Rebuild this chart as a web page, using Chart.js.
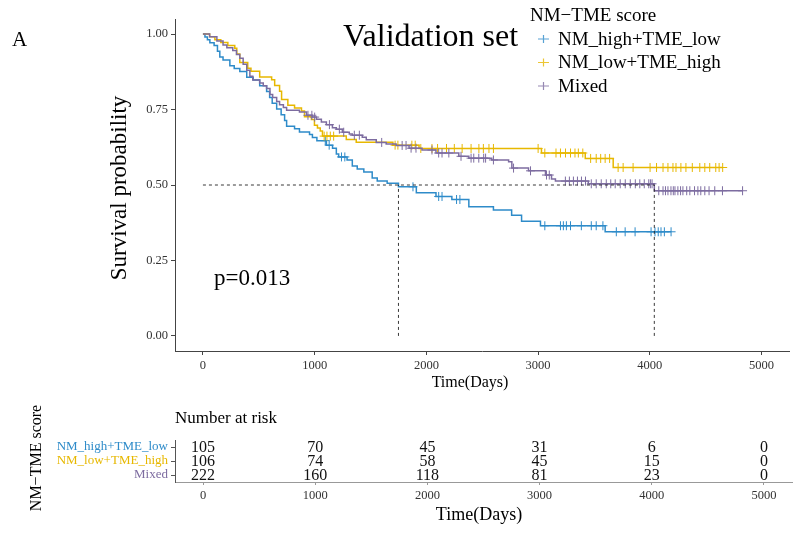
<!DOCTYPE html>
<html>
<head>
<meta charset="utf-8">
<script src="https://cdn.jsdelivr.net/npm/chart.js@4.4.1/dist/chart.umd.min.js"></script>
<style>
  html, body { margin: 0; padding: 0; background: #fff; }
  #wrap { position: relative; width: 795px; height: 540px; overflow: hidden; }
  #wrap canvas { position: absolute; left: 0; top: 0; }
</style>
</head>
<body>
<div id="wrap">
  <canvas id="km" width="795" height="540"></canvas>
  <canvas id="risk" width="795" height="540"></canvas>
</div>
<script>
const FONT = "'Liberation Serif', 'Times New Roman', serif";

const groupNames = ['NM_high+TME_low', 'NM_low+TME_high', 'Mixed'];
const groupColors = ['#2E8BC9', '#E7B800', '#7D6CA0'];

// Kaplan–Meier steps: event times (days) and survival after each step, plus censoring times
const highTimes = [0, 18, 40, 62, 100, 130, 151, 180, 241, 280, 330, 392, 450, 508, 570, 597, 620, 660, 700, 731,
  749, 820, 864, 954, 980, 1020, 1105, 1160, 1194, 1215, 1290, 1337, 1381, 1440, 1515, 1560, 1649, 1750, 1910, 2086,
  2228, 2380, 2600, 2763, 2852, 3021, 3600];
const highSurv = [1, 0.990, 0.981, 0.971, 0.962, 0.943, 0.924, 0.914, 0.895, 0.886, 0.876, 0.857, 0.848, 0.829, 0.810, 0.790, 0.771, 0.752, 0.733, 0.714,
  0.695, 0.686, 0.676, 0.667, 0.657, 0.647, 0.632, 0.622, 0.603, 0.593, 0.583, 0.563, 0.553, 0.543, 0.523, 0.513, 0.506, 0.494, 0.474, 0.462,
  0.452, 0.428, 0.417, 0.400, 0.380, 0.365, 0.345];
const highCensor = [1095, 1130, 1240, 1270, 1880, 2110, 2140, 2270, 2300, 3060, 3200, 3226, 3253, 3290, 3387, 3476, 3520, 3580,
  3700, 3779, 3868, 4011, 4046, 4075, 4100, 4130, 4190];

const lowTimes = [0, 60, 107, 160, 223, 285, 303, 330, 401, 430, 508, 615, 642, 686, 704, 760, 820, 882, 909, 971,
  998, 1025, 1050, 1070, 1283, 1372, 1700, 1934, 3030, 3422, 3672];
const lowSurv = [1, 0.991, 0.981, 0.972, 0.962, 0.953, 0.934, 0.906, 0.887, 0.877, 0.858, 0.849, 0.830, 0.811, 0.783, 0.764, 0.755, 0.745, 0.726, 0.717,
  0.698, 0.689, 0.679, 0.662, 0.651, 0.642, 0.632, 0.621, 0.606, 0.588, 0.558];
const lowCensor = [1085, 1110, 1140, 1170, 1720, 1745, 1870, 1900, 1950, 2050, 2100, 2180, 2250, 2320, 2400, 2470, 2510, 2560, 2600,
  3000, 3060, 3160, 3200, 3245, 3290, 3330, 3360, 3400, 3470, 3520, 3560, 3600, 3640, 3716, 3761, 3850,
  4002, 4060, 4118, 4162, 4207, 4234, 4278, 4323, 4380, 4447, 4492, 4536, 4590, 4620, 4652];

const mixTimes = [0, 60, 125, 180, 214, 267, 300, 330, 360, 392, 420, 446, 508, 540, 570, 600, 624, 660, 686, 720,
  749, 864, 927, 980, 1016, 1060, 1105, 1159, 1194, 1248, 1310, 1337, 1426, 1462, 1551, 1640, 1729, 1845, 1961, 2086,
  2290, 2380, 2585, 2736, 2765, 2914, 3066, 3120, 3155, 3449, 4040];
const mixSurv = [1, 0.991, 0.977, 0.964, 0.955, 0.946, 0.932, 0.920, 0.900, 0.880, 0.860, 0.848, 0.838, 0.829, 0.820, 0.800, 0.790, 0.777, 0.766, 0.757,
  0.748, 0.742, 0.731, 0.725, 0.718, 0.709, 0.700, 0.690, 0.685, 0.675, 0.669, 0.665, 0.658, 0.650, 0.641, 0.636, 0.631, 0.622, 0.616, 0.606,
  0.595, 0.589, 0.583, 0.577, 0.556, 0.547, 0.533, 0.520, 0.513, 0.504, 0.481];
const mixCensor = [940, 975, 1000, 1132, 1221, 1260, 1355, 1400, 1600, 1783, 1818, 1863, 1907, 2050, 2110, 2140, 2201, 2310, 2400, 2424,
  2469, 2513, 2530, 2600, 2780, 2932, 3075, 3100, 3244, 3280, 3316, 3352, 3388, 3424, 3476, 3520, 3565, 3610, 3650, 3690,
  3735, 3780, 3825, 3870, 3910, 3950, 3990, 4005, 4020, 4080, 4118, 4140, 4162, 4189, 4210, 4225, 4251, 4275, 4296, 4330,
  4358, 4400, 4430, 4456, 4492, 4530, 4581, 4650, 4830];

// Median survival times (days) where curves cross 0.5
const medianTimes = [1750, 4040];

// Number at risk table
const riskTimes = [0, 1000, 2000, 3000, 4000, 5000];
const riskHigh = [105, 70, 45, 31, 6, 0];
const riskLow = [106, 74, 58, 45, 15, 0];
const riskMixed = [222, 160, 118, 81, 23, 0];

const xTickValues = [0, 1000, 2000, 3000, 4000, 5000];
const yTickValues = [0, 0.25, 0.5, 0.75, 1];
const pValueText = 'p=0.013';

function stepPoints(times, surv, censor) {
  const pts = times.map((t, i) => ({ x: t, y: surv[i] }));
  const end = Math.max(times[times.length - 1], censor[censor.length - 1]);
  pts.push({ x: end, y: surv[surv.length - 1] });
  return pts;
}
function survAt(times, surv, t) {
  let s = surv[0];
  for (let i = 0; i < times.length; i++) { if (times[i] <= t) s = surv[i]; }
  return s;
}
function censorPoints(times, surv, censor) {
  return censor.map(t => ({ x: t, y: survAt(times, surv, t) }));
}

const series = [
  { times: highTimes, surv: highSurv, censor: highCensor },
  { times: lowTimes, surv: lowSurv, censor: lowCensor },
  { times: mixTimes, surv: mixSurv, censor: mixCensor }
];

const datasets = [];
// median reference lines (dashed)
datasets.push({
  type: 'line', data: [{ x: 0, y: 0.5 }, { x: Math.max(...medianTimes), y: 0.5 }],
  borderColor: '#222', borderWidth: 0.9, borderDash: [3, 3], pointRadius: 0, order: 0
});
medianTimes.forEach(m => datasets.push({
  type: 'line', data: [{ x: m, y: 0 }, { x: m, y: 0.5 }],
  borderColor: '#222', borderWidth: 0.9, borderDash: [3, 3], pointRadius: 0, order: 0
}));
series.forEach((s, i) => {
  datasets.push({
    type: 'line', label: groupNames[i], data: stepPoints(s.times, s.surv, s.censor),
    stepped: true, borderColor: groupColors[i], borderWidth: 1.5, pointRadius: 0, fill: false, order: 3 - i
  });
  datasets.push({
    type: 'scatter', label: groupNames[i] + ' censored', data: censorPoints(s.times, s.surv, s.censor),
    pointStyle: 'cross', pointRadius: 4.5, borderColor: groupColors[i], borderWidth: 1,
    backgroundColor: groupColors[i], order: 3 - i
  });
});

const kmText = {
  id: 'kmText',
  afterDraw(chart) {
    const ctx = chart.ctx;
    ctx.save();
    ctx.fillStyle = '#000';
    ctx.textBaseline = 'alphabetic';
    ctx.textAlign = 'left';
    ctx.font = `21px ${FONT}`;
    ctx.fillText('A', 12, 46);
    ctx.font = `32px ${FONT}`;
    ctx.fillText('Validation set', 343, 46);
    // legend
    ctx.textBaseline = 'middle';
    ctx.font = `19px ${FONT}`;
    ctx.fillText('NM\u2212TME score', 530, 16);
    groupNames.forEach((name, i) => {
      const y = 39 + i * 23.5;
      ctx.strokeStyle = groupColors[i];
      ctx.globalAlpha = 0.8;
      ctx.lineWidth = 1.2;
      ctx.beginPath();
      ctx.moveTo(538, y); ctx.lineTo(549, y);
      ctx.moveTo(543.5, y - 4); ctx.lineTo(543.5, y + 4);
      ctx.stroke();
      ctx.globalAlpha = 1;
      ctx.fillStyle = '#000';
      ctx.fillText(name, 558, y + 1);
    });
    // log-rank p value
    ctx.textBaseline = 'alphabetic';
    ctx.font = `23px ${FONT}`;
    ctx.fillText(pValueText, 214, 285);
    // axis titles
    ctx.textBaseline = 'middle';
    ctx.textAlign = 'center';
    ctx.font = `16px ${FONT}`;
    ctx.fillText('Time(Days)', 470, 383);
    ctx.translate(120, 188);
    ctx.rotate(-Math.PI / 2);
    ctx.font = `23px ${FONT}`;
    ctx.fillText('Survival probability', 0, 0);
    ctx.restore();
  }
};

new Chart(document.getElementById('km'), {
  data: { datasets },
  options: {
    responsive: false, animation: false, devicePixelRatio: 1,
    layout: { padding: { left: 0, right: 3, top: 19, bottom: 0 } },
    plugins: { legend: { display: false }, tooltip: { enabled: false } },
    scales: {
      x: {
        type: 'linear', min: -250, max: 5250,
        afterBuildTicks: s => { s.ticks = xTickValues.map(v => ({ value: v })); },
        afterFit: s => { s.height = 189; },
        ticks: { font: { family: FONT, size: 12.5 }, color: '#333', padding: 3, maxRotation: 0, callback: v => String(v) },
        grid: { drawOnChartArea: false, drawTicks: true, tickLength: 4, color: '#444' },
        border: { display: true, color: '#444', width: 1 }
      },
      y: {
        type: 'linear', min: -0.05, max: 1.05,
        afterBuildTicks: s => { s.ticks = yTickValues.map(v => ({ value: v })); },
        afterFit: s => { s.width = 175; },
        ticks: { font: { family: FONT, size: 12.5 }, color: '#333', padding: 3, callback: v => Number(v).toFixed(2) },
        grid: { drawOnChartArea: false, drawTicks: true, tickLength: 4, color: '#444' },
        border: { display: true, color: '#444', width: 1 }
      }
    }
  },
  plugins: [kmText]
});

// Number-at-risk table
const riskRows = [riskHigh, riskLow, riskMixed];
const rowValue = i => 3 - i;

const riskText = {
  id: 'riskText',
  afterDraw(chart) {
    const ctx = chart.ctx;
    const xs = chart.scales.x, ys = chart.scales.y;
    ctx.save();
    ctx.fillStyle = '#111';
    ctx.textAlign = 'center';
    ctx.textBaseline = 'middle';
    ctx.font = `16px ${FONT}`;
    riskRows.forEach((row, i) => {
      row.forEach((n, j) => {
        ctx.fillText(String(n), xs.getPixelForValue(riskTimes[j]), ys.getPixelForValue(rowValue(i)) + 0.5);
      });
    });
    ctx.fillStyle = '#000';
    ctx.textAlign = 'left';
    ctx.font = `17px ${FONT}`;
    ctx.fillText('Number at risk', 175, 419);
    ctx.textAlign = 'center';
    ctx.font = `18px ${FONT}`;
    ctx.fillText('Time(Days)', 479, 515);
    ctx.translate(37, 458);
    ctx.rotate(-Math.PI / 2);
    ctx.font = `16px ${FONT}`;
    ctx.fillText('NM\u2212TME score', 0, 0);
    ctx.restore();
  }
};

new Chart(document.getElementById('risk'), {
  type: 'scatter',
  data: { datasets: [] },
  options: {
    responsive: false, animation: false, devicePixelRatio: 1,
    layout: { padding: { left: 0, right: 3, top: 440, bottom: 0 } },
    plugins: { legend: { display: false }, tooltip: { enabled: false } },
    scales: {
      x: {
        type: 'linear', min: -250, max: 5250,
        afterBuildTicks: s => { s.ticks = riskTimes.map(v => ({ value: v })); },
        afterFit: s => { s.height = 58; },
        ticks: { font: { family: FONT, size: 12.5 }, color: '#333', padding: 3, maxRotation: 0, callback: v => String(v) },
        grid: { drawOnChartArea: false, drawTicks: true, tickLength: 3, color: '#999' },
        border: { display: true, color: '#999', width: 1 }
      },
      y: {
        type: 'linear', min: 0.5, max: 3.5,
        afterBuildTicks: s => { s.ticks = groupNames.map((g, i) => ({ value: rowValue(i) })); },
        afterFit: s => { s.width = 175; },
        ticks: {
          font: { family: FONT, size: 13 }, padding: 3,
          callback: v => groupNames[3 - v],
          color: c => groupColors[3 - c.tick.value]
        },
        grid: { drawOnChartArea: false, drawTicks: true, tickLength: 4, color: '#555' },
        border: { display: true, color: '#555', width: 1 }
      }
    }
  },
  plugins: [riskText]
});
</script>
</body>
</html>
